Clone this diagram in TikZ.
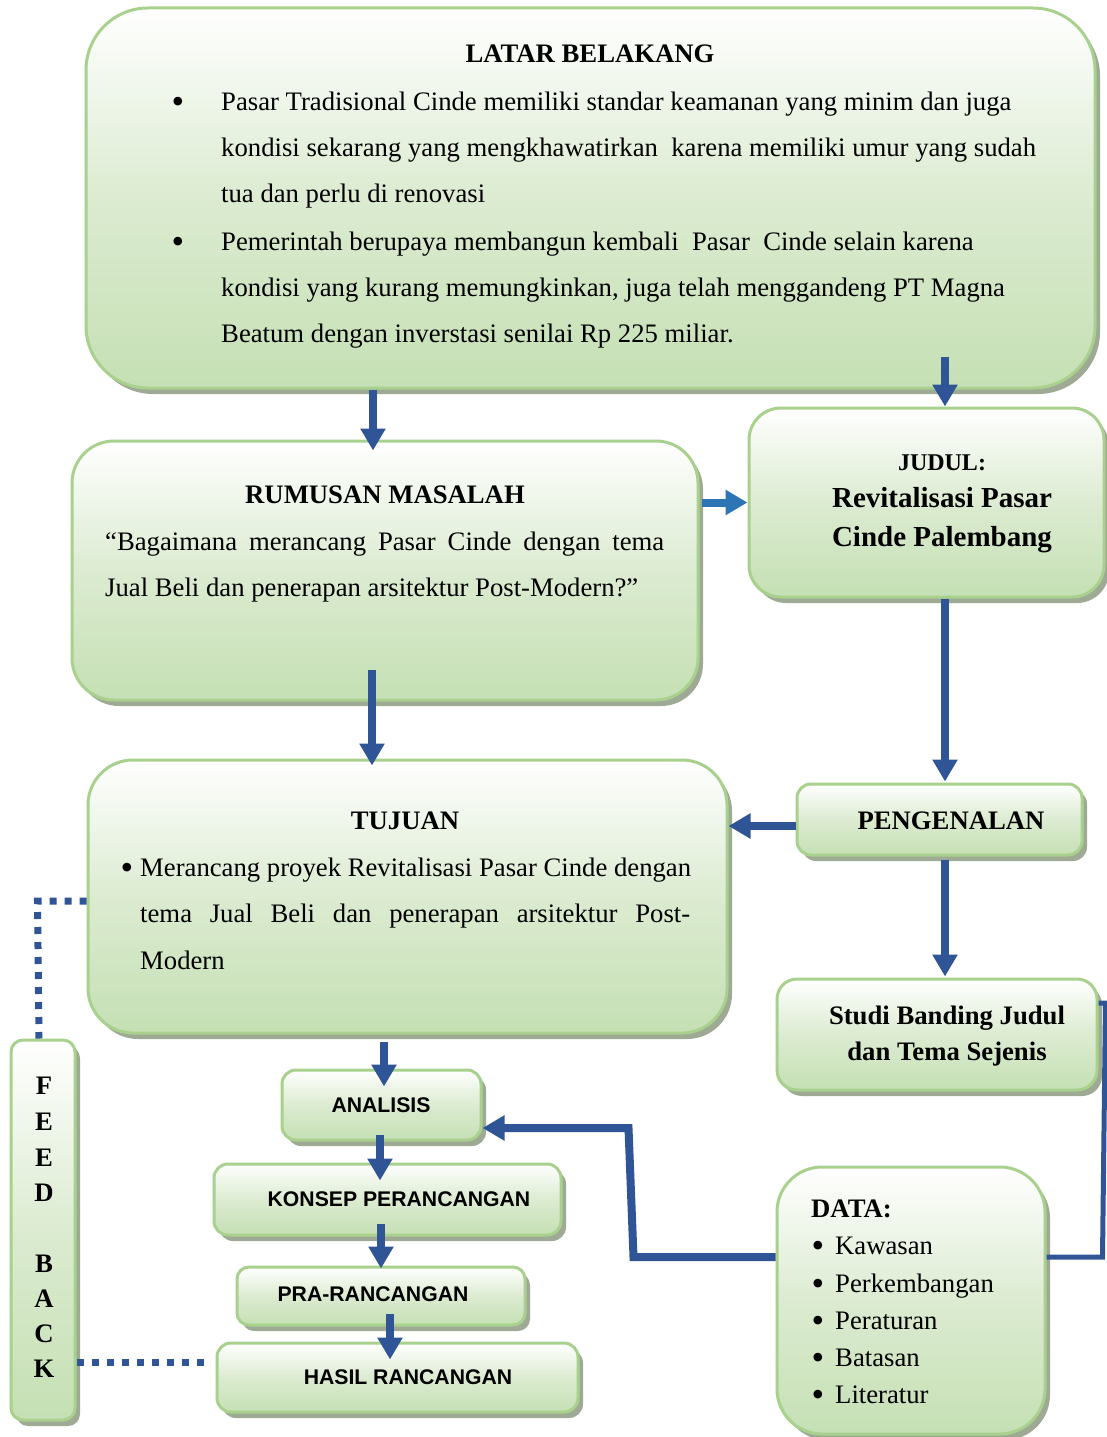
\documentclass[tikz,border=0pt]{standalone}
\usepackage{fontspec}
\setmainfont{Liberation Serif}
\setsansfont{Liberation Sans}
\usetikzlibrary{arrows.meta,shadows,calc}
\definecolor{bordergreen}{HTML}{A9D18E}
\definecolor{fillgreen}{HTML}{C5E0B4}
\definecolor{midgreen}{HTML}{DCEBD1}
\definecolor{shadowc}{HTML}{9EAA94}
\definecolor{darkblue}{HTML}{2F5597}
\definecolor{midblue}{HTML}{2E75B6}
\tikzset{
  box/.style={draw=bordergreen, line width=3pt, rounded corners=#1,
    top color=white, bottom color=fillgreen, middle color=midgreen,
    inner sep=0pt,
    drop shadow={shadow xshift=5pt, shadow yshift=-6pt, fill=shadowc, opacity=1}},
  body/.style={font=\fontsize{26.7}{32}\selectfont, inner sep=0pt},
  bul/.style={font=\fontsize{36}{40}\selectfont, inner sep=0pt, anchor=base},
  bodyb/.style={font=\fontsize{26.7}{32}\selectfont\bfseries, inner sep=0pt},
  sansb/.style={font=\fontsize{21.2}{26}\selectfont\sffamily\bfseries, inner sep=0pt},
  arr/.style={darkblue, line width=8pt, -{Triangle[length=22pt,width=24pt]}},
  dotl/.style={darkblue, line width=7pt, dash pattern=on 7pt off 8pt},
}
\begin{document}
\begin{tikzpicture}[x=1pt,y=-1pt]
\fill[white] (0,0) rectangle (1106,1437);
\useasboundingbox (0,0) rectangle (1106,1437);

% boxes
\node[box=62pt, minimum width=1009pt, minimum height=380pt] (latar) at (590.5,198) {};
\node[box=42pt, minimum width=626pt, minimum height=259pt] (rum) at (385,570.5) {};
\node[box=32pt, minimum width=355pt, minimum height=189pt] (judul) at (926.5,502.5) {};
\node[box=14pt, minimum width=285pt, minimum height=71pt] (peng) at (939.5,819.5) {};
\node[box=20pt, minimum width=320pt, minimum height=111pt] (studi) at (937,1034.5) {};
\node[box=45pt, minimum width=639pt, minimum height=273pt] (tujuan) at (407.5,896.5) {};
\node[box=14pt, minimum width=199pt, minimum height=70pt] (analisis) at (381.5,1105) {};
\node[box=14pt, minimum width=347pt, minimum height=71pt] (konsep) at (387.5,1199.5) {};
\node[box=12pt, minimum width=288pt, minimum height=58pt] (pra) at (381,1296) {};
\node[box=14pt, minimum width=361pt, minimum height=69pt] (hasil) at (397.5,1377.5) {};
\node[box=12pt, minimum width=64pt, minimum height=380pt] (feed) at (43,1230) {};
\node[box=45pt, minimum width=268pt, minimum height=267pt] (data) at (911,1300.5) {};

% LATAR BELAKANG text
\node[bodyb, anchor=base] (tlatar) at (590,63) {LATAR BELAKANG};
\node[bul] (b1) at (178,113) {•};
\node[bul] (b2) at (178,253) {•};
\node[body, anchor=base west] (l1) at (221,110) {Pasar Tradisional Cinde memiliki standar keamanan yang minim dan juga};
\node[body, anchor=base west] (l2) at (221,156) {kondisi sekarang yang mengkhawatirkan\ \ karena memiliki umur yang sudah};
\node[body, anchor=base west] (l3) at (221,202) {tua dan perlu di renovasi};
\node[body, anchor=base west] (l4) at (221,250) {Pemerintah berupaya membangun kembali\ \ Pasar\ \ Cinde selain karena};
\node[body, anchor=base west] (l5) at (221,296) {kondisi yang kurang memungkinkan, juga telah menggandeng PT Magna};
\node[body, anchor=base west] (l6) at (221,342) {Beatum dengan inverstasi senilai Rp 225 miliar.};

% RUMUSAN MASALAH
\node[bodyb, anchor=base] (trum) at (385,503) {RUMUSAN MASALAH};
\node[body, anchor=base west] (r1) at (105,550) {\makebox[559pt][s]{“Bagaimana merancang Pasar Cinde dengan tema}};
\node[body, anchor=base west] (r2) at (105,596) {Jual Beli dan penerapan arsitektur Post-Modern?”};

% JUDUL
\node[font=\fontsize{24}{28}\selectfont\bfseries, inner sep=0pt, anchor=base] (tj1) at (942,470) {JUDUL:};
\node[font=\fontsize{29}{34}\selectfont\bfseries, inner sep=0pt, anchor=base] (tj2) at (942,507) {Revitalisasi Pasar};
\node[font=\fontsize{29}{34}\selectfont\bfseries, inner sep=0pt, anchor=base] (tj3) at (942,546) {Cinde Palembang};

% PENGENALAN
\node[bodyb, anchor=base] (tpeng) at (951,829) {PENGENALAN};

% Studi banding
\node[bodyb, anchor=base] (ts1) at (947,1024) {Studi Banding Judul};
\node[bodyb, anchor=base] (ts2) at (947,1060) {dan Tema Sejenis};

% TUJUAN
\node[bodyb, anchor=base] (ttuj) at (405,829) {TUJUAN};
\node[bul] (bt) at (127,879) {•};
\node[body, anchor=base west] (u1) at (140,876) {Merancang proyek Revitalisasi Pasar Cinde dengan};
\node[body, anchor=base west] (u2) at (140,922) {\makebox[550pt][s]{tema Jual Beli dan penerapan arsitektur Post-}};
\node[body, anchor=base west] (u3) at (140,969) {Modern};

% lower chain
\node[sansb, anchor=base] (tana) at (381,1112) {ANALISIS};
\node[sansb, anchor=base] (tkon) at (399,1206) {KONSEP PERANCANGAN};
\node[sansb, anchor=base] (tpra) at (373,1301) {PRA-RANCANGAN};
\node[sansb, anchor=base] (thas) at (408,1384) {HASIL RANCANGAN};

% FEED BACK
\foreach \ch/\yy [count=\i] in {F/1094,E/1130,E/1166,D/1201,B/1272,A/1307,C/1342,K/1377}
  \node[bodyb, anchor=base] (fb\i) at (44,\yy) {\ch};

% DATA
\node[bodyb, anchor=base west] (tdata) at (811,1217) {DATA:};
\foreach \txt/\yy [count=\i] in {Kawasan/1254,Perkembangan/1292,Peraturan/1329,Batasan/1366,Literatur/1403}{
  \node[bul] (db\i) at (818,\yy+3) {•};
  \node[body, anchor=base west] (dt\i) at (835,\yy) {\txt};
}

% arrows
\draw[arr] ($(latar.south -| rum.north)+(-12,0)$) -- ($(rum.north)+(-12,11)$);
\draw[arr] ($(latar.south -| judul.north)+(18.5,-33)$) -- ($(judul.north)+(18.5,0)$);
\draw[arr, midblue] ($(rum.east |- judul.west)+(2,0)$) -- (judul.west);
\draw[arr] ($(judul.south)+(18.5,0)$) -- ($(peng.north)+(5.5,-1)$);
\draw[arr] ($(peng.west)+(0,6.5)$) -- ($(tujuan.east |- peng.west)+(0,6.5)$);
\draw[arr] ($(peng.south)+(5.5,3)$) -- ($(studi.north)+(8,-1)$);
\draw[arr] ($(rum.south)+(-13,-32)$) -- ($(tujuan.north)+(-35.5,7)$);
\draw[arr] ($(tujuan.south)+(-23.5,7)$) -- ($(analisis.north)+(2.5,18)$);
\draw[arr] ($(analisis.south)+(-1.5,-7)$) -- ($(konsep.north)+(-7.5,18)$);
\draw[arr] ($(konsep.south)+(-6.5,-13)$) -- ($(pra.north)+(0,3)$);
\draw[arr] ($(pra.south)+(9,-13)$) -- ($(hasil.north)+(-7.5,18)$);
\draw[arr] ($(data.west)+(0,-43.5)$) -- ++(-142,0) -- ++(-5,-129) -- ($(analisis.east)+(0,23)$);
\draw[darkblue, line width=5pt] ($(data.east)+(0,-43.5)$) -- ++(56,0) -- ++(3,-254) -- ($(studi.east)+(0,-31.5)$);

% feedback dotted lines
\draw[dotl] ($(tujuan.west)+(0,4.5)$) -- ++(-49,0) -- ($(feed.north)+(-4,0)$);
\draw[dotl] ($(feed.east)+(0,132)$) -- ($(hasil.west)+(-5,-15.5)$);
\end{tikzpicture}
\end{document}
